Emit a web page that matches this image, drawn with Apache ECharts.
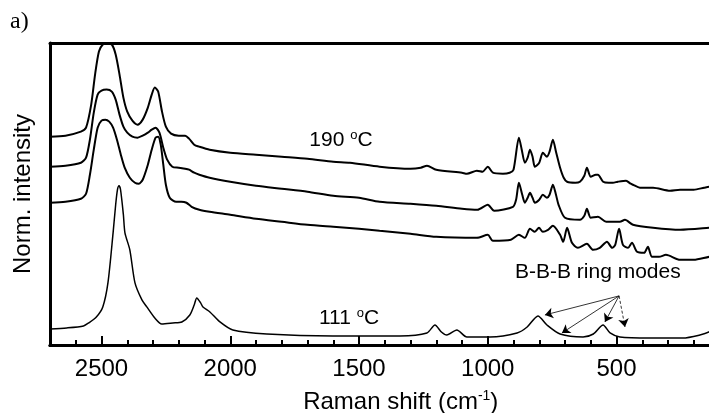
<!DOCTYPE html>
<html><head><meta charset="utf-8">
<script src="https://cdn.jsdelivr.net/npm/echarts@6/dist/echarts.min.js"></script>
<style>html,body{margin:0;padding:0;background:#fff}#c{width:709px;height:413px}</style>
</head><body><div id="c"></div>
<script>
// Raman shift (cm^-1), normalized intensity (arbitrary units, stacked offsets as in figure)
const curve190a = [[2700,208],[2640,209],[2580,213],[2560,217],[2540,240],[2525,270],[2510,293],[2495,300],[2480,301],[2460,300],[2445,290],[2430,270],[2415,247],[2400,233],[2380,224],[2360,220],[2340,225],[2320,237],[2305,250],[2293,257],[2280,253],[2265,233],[2250,218],[2230,211],[2200,209],[2175,209],[2160,206],[2140,200],[2120,198],[2080,195],[2000,192],[1900,190],[1800,188],[1700,186],[1600,183],[1535,182],[1420,178],[1300,176],[1260,177],[1236,179],[1200,175],[1100,172],[1081,171],[1042,174],[1020,173],[1000,178],[980,172],[941,171],[915,172],[900,175],[879,207],[868,195],[856,182],[845,187],[836,195],[826,188],[817,178],[800,182],[786,192],[770,188],[760,193],[747,205],[735,193],[719,177],[705,167],[692,163],[660,162],[642,163],[625,169],[615,177],[600,168],[580,170],[572,170],[552,163],[530,162],[514,162],[495,163],[463,164],[445,161],[436,160],[409,157],[358,157],[292,154],[253,155],[200,155],[160,157],[140,158],[100,159]];
const curve190b = [[2700,178],[2640,179],[2580,182],[2560,187],[2545,205],[2530,232],[2515,250],[2500,254],[2480,255],[2460,253],[2445,245],[2430,230],[2415,218],[2400,212],[2380,208],[2360,207],[2340,209],[2320,212],[2305,215],[2290,217],[2275,212],[2260,197],[2245,185],[2225,178],[2200,177],[2175,176],[2160,175],[2140,172],[2120,170],[2080,167],[2000,163],[1900,159],[1800,156],[1700,153],[1600,149],[1500,147],[1420,143],[1300,141],[1200,139],[1100,136],[1040,135],[1000,140],[975,134],[902,138],[890,145],[879,162],[866,150],[856,142],[845,147],[836,152],[826,147],[817,142],[800,145],[786,150],[770,147],[760,150],[747,160],[735,150],[725,140],[700,127],[642,125],[625,129],[615,136],[600,127],[572,128],[540,123],[487,123],[467,125],[436,120],[358,117],[253,115],[140,117],[100,118]];
const curve190c = [[2700,142],[2640,143],[2580,146],[2560,151],[2545,170],[2530,195],[2515,217],[2500,224],[2485,225],[2470,223],[2455,217],[2440,205],[2425,190],[2410,177],[2390,167],[2370,162],[2355,161],[2340,165],[2320,180],[2305,195],[2290,207],[2280,208],[2270,200],[2260,180],[2250,160],[2235,147],[2210,143],[2190,143],[2170,142],[2150,138],[2120,135],[2080,133],[2000,130],[1900,126],[1800,123],[1700,120],[1600,118],[1500,116],[1420,114],[1300,111],[1200,108],[1042,107],[1000,110],[980,104],[910,105],[879,110],[856,107],[836,116],[817,113],[801,117],[786,113],[766,115],[747,119],[719,110],[707,103],[692,117],[673,102],[650,97],[615,101],[591,95],[565,97],[537,103],[517,97],[505,100],[490,116],[475,100],[455,97],[440,102],[420,93],[393,92],[378,98],[362,88],[335,88],[308,90],[253,85],[200,85],[140,88],[100,89]];
const curve111 = [[2700,16],[2635,17],[2570,19],[2550,22],[2520,28],[2495,38],[2475,62],[2455,112],[2445,140],[2438,155],[2432,159],[2426,155],[2415,130],[2409,112],[2390,95],[2370,62],[2343,45],[2324,38],[2293,27],[2266,21],[2223,22],[2188,23],[2157,30],[2140,40],[2130,47],[2115,42],[2106,38],[2079,33],[2040,23],[1990,15],[1858,11],[1601,9],[1341,9],[1236,12],[1205,20],[1180,13],[1159,10],[1120,15],[1081,8],[991,8],[886,12],[847,18],[805,29],[770,20],[719,11],[630,8],[590,11],[552,20],[525,12],[487,8],[370,7],[242,7],[176,10],[141,13],[100,20]];

const majorTicks = [500, 1000, 1500, 2000, 2500];
const arrowFrom = [490, 49];
const arrowTips = [[778, 30], [712, 12], [545, 23], [467, 18]];
const arrowDashed = [false, false, false, true];

const FONT = '"Liberation Sans", Arial, sans-serif';
const chart = echarts.init(document.getElementById('c'), null, {renderer: 'canvas'});
const lineSeries = (data, w) => ({
  type: 'line', data, xAxisIndex: 0, yAxisIndex: 0, symbol: 'none', smooth: 0.25,
  lineStyle: {color: '#000', width: w}, silent: true
});
const s111 = lineSeries(curve111, 1.5);
s111.markLine = {
  silent: true, symbol: ['none', 'arrow'], symbolSize: 8, animation: false,
  label: {show: false},
  data: arrowTips.map((t, i) => [
    {coord: arrowFrom, lineStyle: {color: '#000', width: 0.8, type: arrowDashed[i] ? [3, 2] : 'solid'}},
    {coord: t, lineStyle: {color: '#000', width: 0.8, type: arrowDashed[i] ? [3, 2] : 'solid'}}
  ])
};
const axisBlack = {color: '#000', width: 3};
const gridBox = {left: 50, right: -10.5, top: 43, bottom: 68, outerBoundsMode: 'none', containLabel: false};
chart.setOption({
  animation: false,
  grid: [Object.assign({}, gridBox), Object.assign({}, gridBox)],
  xAxis: [
    {type: 'value', gridIndex: 0, min: 100, max: 2700, interval: 100, inverse: true, position: 'bottom',
     axisLine: {show: true, onZero: false, lineStyle: axisBlack},
     axisTick: {show: true, inside: true, length: 5, lineStyle: {color: '#000', width: 2}},
     axisLabel: {show: true, customValues: majorTicks, formatter: v => String(v), fontSize: 24, color: '#000', fontFamily: FONT, margin: 12},
     splitLine: {show: false},
     name: '{t|Raman shift (cm}{s|-1}{t|)}', nameLocation: 'middle', nameGap: 44,
     nameTextStyle: {padding: [0, 0, 0, 32], rich: {
       t: {fontSize: 24, fontFamily: FONT, color: '#000', lineHeight: 26},
       s: {fontSize: 14, fontFamily: FONT, color: '#000', lineHeight: 14, verticalAlign: 'top'}
     }}},
    {type: 'value', gridIndex: 0, min: 100, max: 2700, inverse: true, position: 'top',
     axisLine: {show: true, onZero: false, lineStyle: axisBlack},
     axisTick: {show: false}, axisLabel: {show: false}, splitLine: {show: false}},
    {type: 'value', gridIndex: 1, min: 100, max: 2700, inverse: true, position: 'bottom',
     axisLine: {show: true, onZero: false, lineStyle: axisBlack},
     axisTick: {show: true, inside: true, length: 9, customValues: majorTicks, lineStyle: {color: '#000', width: 2}},
     axisLabel: {show: false}, splitLine: {show: false}}
  ],
  yAxis: [
    {type: 'value', gridIndex: 0, min: 0, max: 301.5, position: 'left',
     axisLine: {show: true, onZero: false, lineStyle: axisBlack},
     axisTick: {show: false}, axisLabel: {show: false}, splitLine: {show: false},
     name: 'Norm. intensity', nameLocation: 'middle', nameGap: 15,
     nameTextStyle: {fontSize: 24, fontFamily: FONT, color: '#000'}},
    {type: 'value', gridIndex: 1, min: 0, max: 301.5, position: 'left',
     axisLine: {show: false}, axisTick: {show: false}, axisLabel: {show: false}, splitLine: {show: false}}
  ],
  series: [lineSeries(curve190a, 2), lineSeries(curve190b, 2), lineSeries(curve190c, 2), s111,
    {type: 'line', data: [], xAxisIndex: 2, yAxisIndex: 1, symbol: 'none', silent: true}],
  graphic: [
    {type: 'text', left: 10, top: 10, style: {text: 'a)', fontSize: 24, fontFamily: '"Liberation Serif", "Times New Roman", serif', fill: '#000'}},
    {type: 'text', x: 341, y: 140, style: {text: '190 {s|o}C', fontSize: 21, fontFamily: FONT, fill: '#000', align: 'center', verticalAlign: 'middle', lineHeight: 22,
      rich: {s: {fontSize: 13, fontFamily: FONT, fill: '#000', verticalAlign: 'top', lineHeight: 13}}}},
    {type: 'text', x: 349, y: 318, style: {text: '111 {s|o}C', fontSize: 21, fontFamily: FONT, fill: '#000', align: 'center', verticalAlign: 'middle', lineHeight: 22,
      rich: {s: {fontSize: 13, fontFamily: FONT, fill: '#000', verticalAlign: 'top', lineHeight: 13}}}},
    {type: 'text', x: 515, y: 272, style: {text: 'B-B-B ring modes', fontSize: 21, fontFamily: FONT, fill: '#000', align: 'left', verticalAlign: 'middle'}}
  ]
});
</script></body></html>
